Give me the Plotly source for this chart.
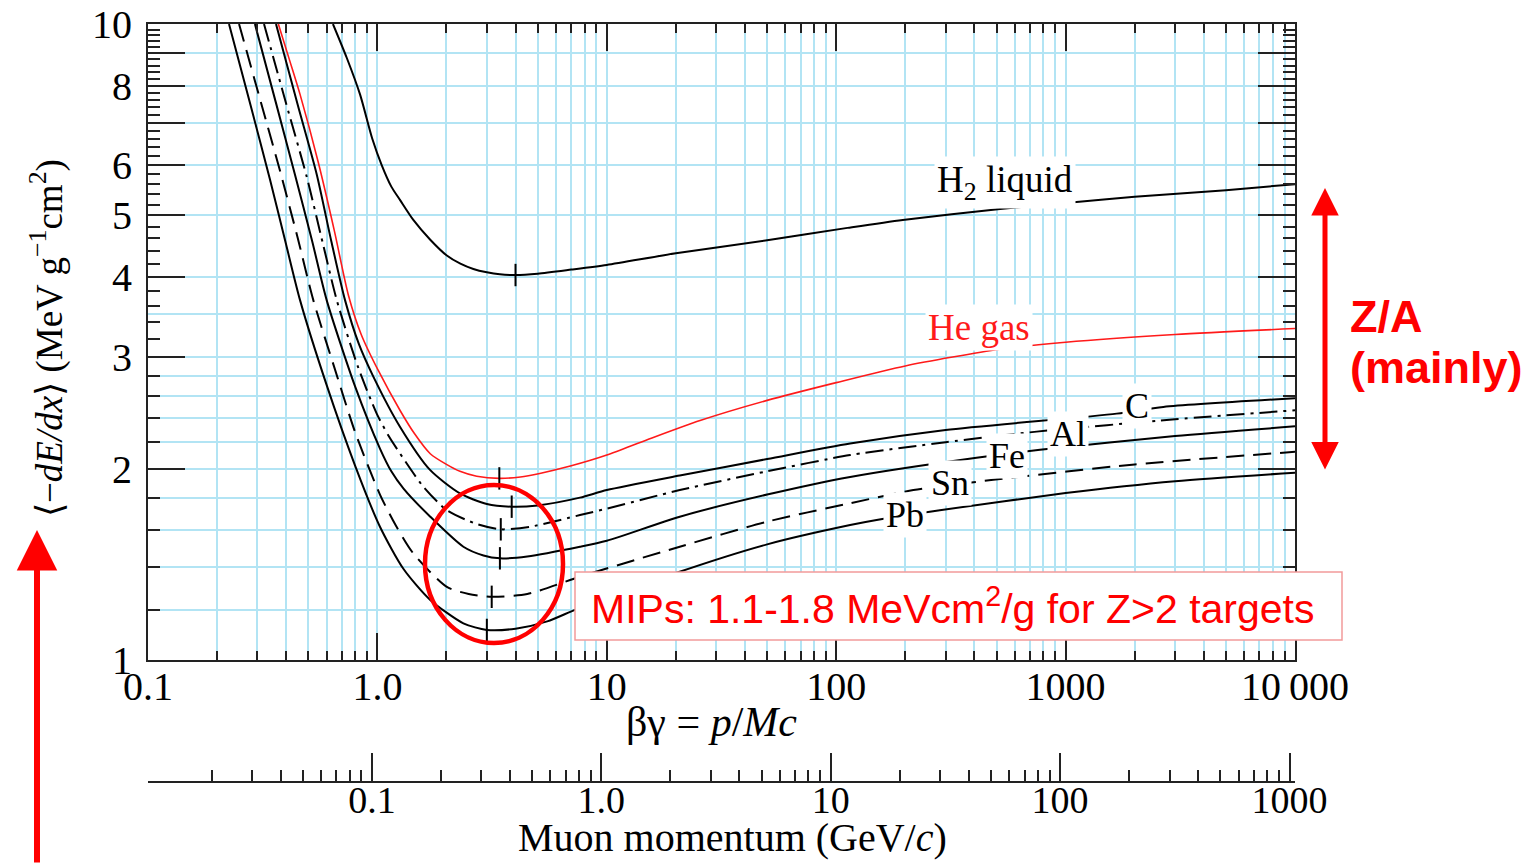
import numpy as np
import plotly.graph_objects as go

# beta*gamma values and mean energy loss (MeV g^-1 cm^2) for each material
bg_h2 = [0.64, 0.735, 0.84, 0.95, 1.044, 1.15, 1.254, 1.434, 1.7, 2.0, 2.3, 2.62, 3.0, 3.42, 4.0, 5.0, 7.0, 10, 20, 50, 112, 195, 518, 1000, 2000, 5000, 10000]
de_h2 = [10, 8.85, 7.75, 6.6, 6.0, 5.55, 5.29, 4.92, 4.58, 4.33, 4.2, 4.12, 4.07, 4.04, 4.03, 4.05, 4.11, 4.18, 4.36, 4.57, 4.78, 4.92, 5.12, 5.23, 5.35, 5.48, 5.6]

bg_he = [0.37, 0.415, 0.46, 0.553, 0.65, 0.747, 0.85, 1.01, 1.254, 1.45, 1.7, 2.0, 2.29, 2.71, 3.4, 4.2, 5.1, 7.0, 10, 15, 25.5, 50, 100, 200, 517, 1000, 3000, 10000]
de_he = [10, 8.75, 7.75, 6.05, 4.72, 3.75, 3.25, 2.85, 2.47, 2.27, 2.11, 2.03, 1.98, 1.945, 1.93, 1.94, 1.965, 2.02, 2.10, 2.22, 2.38, 2.56, 2.73, 2.9, 3.08, 3.16, 3.25, 3.32]

bg_c = [0.3614, 0.45, 0.544, 0.63, 0.7225, 0.83, 0.96, 1.254, 1.696, 2.29, 3.0, 3.85, 5.0, 7.64, 10, 20.8, 50, 115, 300, 1670, 2667, 10000]
de_c = [10, 7.45, 5.8, 4.55, 3.68, 3.14, 2.79, 2.327, 1.99, 1.828, 1.759, 1.742, 1.75, 1.80, 1.85, 1.95, 2.07, 2.19, 2.3, 2.44, 2.50, 2.58]

bg_al = [0.3204, 0.40, 0.492, 0.58, 0.665, 0.82, 0.993, 1.12, 1.254, 1.585, 2.005, 2.71, 3.45, 4.63, 7.64, 10, 20.8, 50, 115, 300, 748, 3000, 10000]
de_al = [10, 7.5, 5.75, 4.5, 3.68, 2.9, 2.44, 2.25, 2.113, 1.873, 1.721, 1.636, 1.605, 1.62, 1.69, 1.73, 1.85, 1.98, 2.10, 2.2, 2.286, 2.39, 2.47]

bg_fe = [0.2925, 0.36, 0.437, 0.52, 0.601, 0.8, 1.026, 1.15, 1.3, 1.7, 2.37, 2.9, 3.42, 4.5, 7.64, 10, 20.8, 50, 115, 409, 773, 3000, 10000]
de_fe = [10, 7.55, 5.8, 4.55, 3.68, 2.69, 2.15, 1.98, 1.86, 1.68, 1.507, 1.46, 1.445, 1.455, 1.507, 1.54, 1.68, 1.82, 1.94, 2.08, 2.14, 2.25, 2.33]

bg_sn = [0.2494, 0.31, 0.38, 0.45, 0.5255, 0.65, 0.8, 1.026, 1.2, 1.434, 2.0, 2.5, 3.15, 4.5, 7.64, 20.8, 50, 115, 217, 484, 2000, 10000]
de_sn = [10, 7.55, 5.8, 4.6, 3.68, 2.88, 2.28, 1.82, 1.63, 1.471, 1.304, 1.27, 1.257, 1.27, 1.352, 1.507, 1.65, 1.764, 1.85, 1.92, 2.03, 2.125]

bg_pb = [0.2255, 0.28, 0.34, 0.40, 0.46, 0.6, 0.8, 1.026, 1.3, 1.7, 2.37, 3.0, 4.0, 5.5, 7.3, 10, 20, 50, 115, 150, 283, 1000, 3000, 10000]
de_pb = [10, 7.45, 5.7, 4.5, 3.68, 2.71, 2.02, 1.62, 1.39, 1.243, 1.142, 1.115, 1.12, 1.15, 1.20, 1.25, 1.37, 1.52, 1.63, 1.66, 1.72, 1.83, 1.91, 1.97]

# position of the minimum of each curve (marked with a short tick)
min_bg = [4.0, 3.4, 3.85, 3.45, 3.42, 3.15, 3.0]
min_de = [4.03, 1.93, 1.742, 1.605, 1.445, 1.257, 1.115]

# axis ticks
x_major = [0.1, 1, 10, 100, 1000, 10000]
x_major_text = ["0.1", "1.0", "10", "100", "1000", "10\u2009000"]
x_minor = [m * d for d in [0.1, 1, 10, 100, 1000] for m in range(2, 10)]
y_major = [1, 2, 3, 4, 5, 6, 7, 8, 9, 10]
y_major_text = ["1", "2", "3", "4", "5", "6", "", "8", "", "10"]
y_minor = [round(1 + 0.2 * i, 1) for i in range(46) if round(1 + 0.2 * i, 1) not in y_major]
y_grid = [1.2, 1.4, 1.6, 1.8, 2, 2.2, 2.4, 2.6, 2.8, 3, 3.5, 4, 5, 6, 7, 8, 9]

muon_mass = 0.10566  # GeV/c^2
p_major = [0.1, 1, 10, 100, 1000]
p_major_text = ["0.1", "1.0", "10", "100", "1000"]
p_minor = [m * d for d in [0.01, 0.1, 1, 10, 100] for m in range(2, 10)]

BLUE = "#b2e4f4"
RED = "#ff0000"
SERIF = "Liberation Serif, Times New Roman, serif"
SANS = "Liberation Sans, Arial, sans-serif"

fig = go.Figure()

curves = [
    (bg_h2, de_h2, "black", "solid", 2),
    (bg_he, de_he, "#ff1a1a", "solid", 1.6),
    (bg_c, de_c, "black", "solid", 2),
    (bg_al, de_al, "black", "18px,6px,3px,6px", 2),
    (bg_fe, de_fe, "black", "solid", 2),
    (bg_sn, de_sn, "black", "18px,9px", 2),
    (bg_pb, de_pb, "black", "solid", 2),
]
for bx, dy, col, dash, w in curves:
    fig.add_trace(go.Scatter(x=bx, y=dy, mode="lines",
                             line=dict(color=col, width=w, dash=dash, shape="spline", smoothing=0.7),
                             showlegend=False, hoverinfo="skip"))

fig.add_trace(go.Scatter(x=min_bg, y=min_de, mode="markers",
                         marker=dict(symbol="line-ns", size=16, line=dict(color="black", width=2)),
                         showlegend=False, hoverinfo="skip"))

# empty traces so the tick-only axes get drawn
fig.add_trace(go.Scatter(x=[], y=[], xaxis="x", yaxis="y3", showlegend=False))
fig.add_trace(go.Scatter(x=[], y=[], xaxis="x2", yaxis="y", showlegend=False))

tickfont = dict(family=SERIF, size=40, color="black")
ydom = [(782 - 660) / 758, 1]
fig.update_layout(
    width=1537, height=864,
    margin=dict(l=148, r=242, t=24, b=82),
    paper_bgcolor="white", plot_bgcolor="white",
    xaxis=dict(type="log", range=[-1, 4], tickvals=x_major, ticktext=x_major_text,
               ticks="inside", ticklen=27, tickwidth=2, tickcolor="#222", automargin=False,
               showline=True, linecolor="#222", linewidth=2, mirror="ticks", ticklabelstandoff=-10,
               showgrid=True, gridcolor=BLUE, gridwidth=2,
               minor=dict(tickvals=x_minor, ticks="inside", ticklen=9, tickwidth=2, tickcolor="#222",
                          showgrid=True, gridcolor=BLUE, gridwidth=2),
               tickfont=tickfont, zeroline=False),
    yaxis=dict(type="log", range=[0, 1], domain=ydom, tickvals=y_grid, ticks="", automargin=False,
               showticklabels=False, showgrid=True, gridcolor=BLUE, gridwidth=2, zeroline=False),
    yaxis3=dict(type="log", range=[0, 1], domain=ydom, overlaying="y", anchor="x", side="left",
                tickvals=y_major, ticktext=y_major_text, ticks="inside", ticklen=37, tickwidth=2,
                tickcolor="#222", showline=True, linecolor="#222", linewidth=2, mirror="ticks",
                showgrid=False, ticklabelstandoff=6, automargin=False,
                minor=dict(tickvals=y_minor, ticks="inside", ticklen=12, tickwidth=2, tickcolor="#222", showgrid=False),
                tickfont=tickfont, zeroline=False),
    xaxis2=dict(type="log", range=[np.log10(0.1 * muon_mass), np.log10(1e4 * muon_mass)],
                overlaying="x", anchor="free", position=0, side="bottom", automargin=False,
                tickvals=p_major, ticktext=p_major_text, ticks="inside", ticklen=28, tickwidth=2,
                tickcolor="#222", showline=True, linecolor="#222", linewidth=2, showgrid=False,
                ticklabelstandoff=-16,
                minor=dict(tickvals=p_minor, ticks="inside", ticklen=11, tickwidth=2, tickcolor="#222", showgrid=False),
                tickfont=dict(family=SERIF, size=38, color="black"), zeroline=False),
)


def px_x(px):
    return (px - 148) / 1147


def px_y(py):
    return (782 - py) / 758


def note(text, x, y, size, color="black", family=SERIF, **kw):
    d = dict(x=px_x(x), y=px_y(y), xref="paper", yref="paper", showarrow=False, text=text,
             xanchor="center", yanchor="middle", font=dict(family=family, size=size, color=color))
    d.update(kw)
    return d


ann = []
# axis titles
ann.append(note("\u03b2\u03b3 = <i>p</i>/<i>Mc</i>", 711, 722, 42))
ann.append(note("Muon momentum (GeV/<i>c</i>)", 732, 837, 40))
ann.append(note("\u27e8\u2212<i>dE/dx</i>\u27e9 (MeV g<sup>\u22121</sup>cm<sup>2</sup>)", 47, 338, 37, textangle=-90))

# curve labels on white patches
labels = [
    ("H<sub>2</sub> liquid", 1005, 182, "black", 37),
    ("He gas", 979, 327, "#ff1a1a", 37),
    ("C", 1137, 406, "black", 36),
    ("Al", 1068, 434, "black", 36),
    ("Fe", 1007, 456, "black", 36),
    ("Sn", 950, 483, "black", 36),
    ("Pb", 905, 515, "black", 36),
]
for t, x, y, c, s in labels:
    ann.append(note(t, x, y, s, color=c, bgcolor="white", borderpad=2))

# MIPs note
ann.append(note("MIPs: 1.1-1.8 MeVcm<sup>2</sup>/g for Z>2 targets", 953, 606, 41, color=RED, family=SANS))

# Z/A arrow and text
ann.append(dict(x=px_x(1325), y=px_y(188), ax=0, ay=283, xref="paper", yref="paper",
                axref="pixel", ayref="pixel", showarrow=True, arrowhead=2, arrowside="end+start",
                arrowsize=1.1, arrowwidth=5, arrowcolor=RED, text=""))
ann.append(note("<b>Z/A</b>", 1348, 316, 45, color=RED, family=SANS, xanchor="left"))
ann.append(note("<b>(mainly)</b>", 1348, 368, 45, color=RED, family=SANS, xanchor="left"))
# left arrow
ann.append(dict(x=px_x(37), y=px_y(530), ax=0, ay=334, xref="paper", yref="paper",
                axref="pixel", ayref="pixel", showarrow=True, arrowhead=2, arrowsize=1.35,
                arrowwidth=6, arrowcolor=RED, text=""))
fig.update_layout(annotations=ann)

# box behind the MIPs note
fig.add_shape(type="rect", xref="paper", yref="paper", x0=px_x(575), x1=px_x(1342),
              y0=px_y(640), y1=px_y(572), fillcolor="white", line=dict(color="#f29a9a", width=1.5),
              layer="above")
# ellipse around the minima
fig.add_shape(type="circle", xref="paper", yref="paper", x0=px_x(425), x1=px_x(563),
              y0=px_y(643), y1=px_y(485), line=dict(color=RED, width=4.5), layer="above")

fig.write_html("out.html")
